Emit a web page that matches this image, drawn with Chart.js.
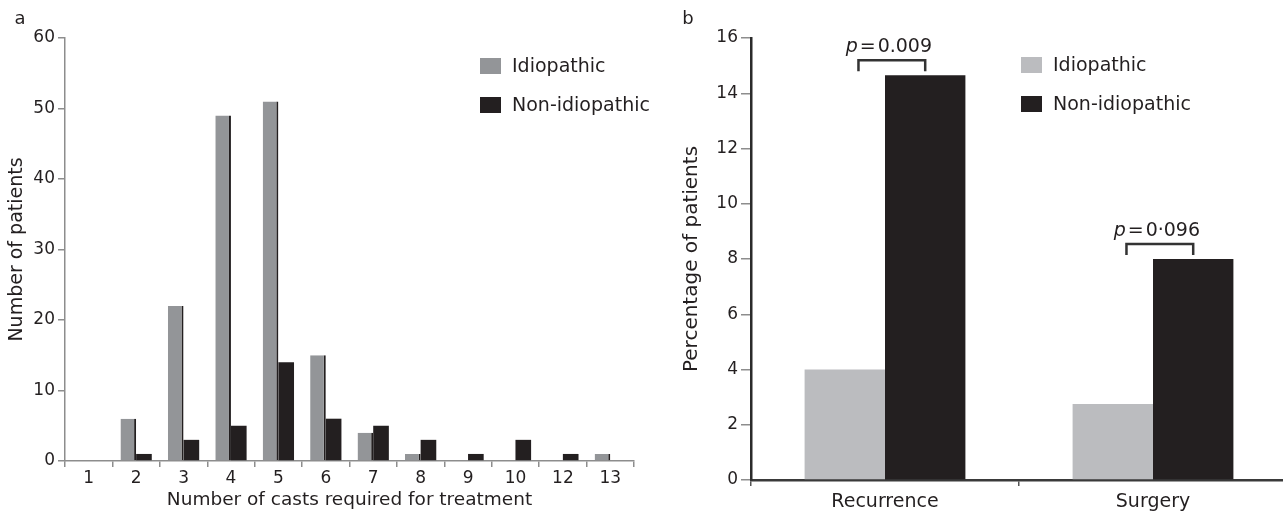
<!DOCTYPE html>
<html><head><meta charset="utf-8">
<script src="https://cdn.jsdelivr.net/npm/chart.js@4"></script>
<style>
html,body{margin:0;padding:0;background:#fff;overflow:hidden;width:1283px;height:511px}
#wa{position:absolute;left:0;top:0;width:670px;height:511px}
#wb{position:absolute;left:670px;top:0;width:617px;height:511px}
</style></head><body>
<div id="wa"><canvas id="ca"></canvas></div>
<div id="wb"><canvas id="cb"></canvas></div>
<script>
// ---- Panel a data ----
const castCategories = ['1','2','3','4','5','6','7','8','9','10','12','13'];
const idiopathicCounts = [0, 6, 22, 49, 51, 15, 4, 1, 0, 0, 0, 1];
const nonIdiopathicCounts = [0, 1, 3, 5, 14, 6, 5, 3, 1, 3, 1, 0];
const countAxis = {min: 0, max: 60, step: 10};

// ---- Panel b data ----
const outcomeCategories = ['Recurrence', 'Surgery'];
const idiopathicPct = [4.0, 2.75];
const nonIdiopathicPct = [14.65, 8.0];
const pValueLabels = ['0.009', '0\u00b7096'];
const pctAxis = {min: 0, max: 16, step: 2};

const seriesNames = ['Idiopathic', 'Non-idiopathic'];

const F = 'DejaVu Sans';
const TXT = '#231f20';
const BLACK = '#231f20';

function legendPlugin(id, x, y0, dy) {
  return {
    id,
    afterDraw(chart) {
      const ctx = chart.ctx;
      ctx.save();
      chart.data.datasets.forEach((ds, i) => {
        const cy = y0 + i * dy;
        ctx.fillStyle = ds.legendColor || ds.backgroundColor;
        ctx.fillRect(x, cy - 8, 21, 16);
        ctx.fillStyle = TXT;
        ctx.font = '19px "' + F + '"';
        ctx.textBaseline = 'middle';
        ctx.textAlign = 'left';
        ctx.fillText(ds.label, x + 32, cy + 1);
      });
      ctx.restore();
    }
  };
}
function panelLabel(id, text, x, y) {
  return {
    id,
    afterDraw(chart) {
      const ctx = chart.ctx;
      ctx.save();
      ctx.fillStyle = TXT;
      ctx.font = '18px "' + F + '"';
      ctx.textBaseline = 'middle';
      ctx.textAlign = 'center';
      ctx.fillText(text, x, y);
      ctx.restore();
    }
  };
}

// ---- Chart a ----
new Chart(document.getElementById('ca'), {
  type: 'bar',
  data: {
    labels: castCategories,
    datasets: [
      {label: seriesNames[0], data: idiopathicCounts, backgroundColor: '#939598', legendColor: '#939598',
       borderColor: BLACK, borderWidth: {top: 0, right: 2, bottom: 0, left: 0}, borderSkipped: 'start',
       categoryPercentage: 0.66, barPercentage: 1.0},
      {label: seriesNames[1], data: nonIdiopathicCounts, backgroundColor: BLACK,
       categoryPercentage: 0.66, barPercentage: 1.0}
    ]
  },
  options: {
    responsive: true, maintainAspectRatio: false, animation: false, devicePixelRatio: 1,
    layout: {padding: {top: 38, right: 36, bottom: 0, left: 0}},
    plugins: {legend: {display: false}, tooltip: {enabled: false}},
    scales: {
      x: {
        ticks: {font: {family: F, size: 17}, color: TXT, padding: 1, autoSkip: false, maxRotation: 0},
        grid: {drawOnChartArea: false, tickLength: 6, color: '#8d8d8d', lineWidth: 1.5, offset: true},
        border: {color: '#8d8d8d', width: 1.5},
        title: {display: true, text: 'Number of casts required for treatment', color: TXT,
                font: {family: F, size: 18.5}, padding: {top: 0, bottom: 0}},
        afterFit(s) { s.height = 50; }
      },
      y: {
        min: countAxis.min, max: countAxis.max,
        ticks: {stepSize: countAxis.step, font: {family: F, size: 17}, color: TXT, padding: 3},
        grid: {drawOnChartArea: false, tickLength: 7, color: '#8d8d8d', lineWidth: 1.5},
        border: {color: '#8d8d8d', width: 1.5},
        title: {display: true, text: 'Number of patients', color: TXT,
                font: {family: F, size: 19}, padding: {top: 6, bottom: 0}},
        afterFit(s) { s.width = 65; }
      }
    }
  },
  plugins: [legendPlugin('lega', 480, 66, 39), panelLabel('pla', 'a', 20, 19)]
});

// ---- Chart b ----
const pAnnot = {
  id: 'pannot',
  afterDatasetsDraw(chart) {
    const ctx = chart.ctx;
    const m0 = chart.getDatasetMeta(0), m1 = chart.getDatasetMeta(1);
    ctx.save();
    pValueLabels.forEach((pv, i) => {
      const g = m0.data[i], b = m1.data[i];
      const xl = g.x + g.width * 0.17, xr = b.x;
      const top = Math.min(g.y, b.y) - 15;
      ctx.strokeStyle = '#333';
      ctx.lineWidth = 2.5;
      ctx.beginPath();
      ctx.moveTo(xl, top + 11); ctx.lineTo(xl, top); ctx.lineTo(xr, top); ctx.lineTo(xr, top + 11);
      ctx.stroke();
      // text
      ctx.fillStyle = TXT;
      ctx.textBaseline = 'middle';
      ctx.textAlign = 'left';
      const fi = 'italic 19px "' + F + '"', fn = '19px "' + F + '"';
      ctx.font = fi; const wp = ctx.measureText('p').width;
      ctx.font = fn; const we = ctx.measureText('=').width, wn = ctx.measureText(pv).width;
      const gap = 2;
      const total = wp + gap + we + gap + wn;
      let x = (xl + xr) / 2 - total / 2 - 3;
      const y = top - 13;
      ctx.font = fi; ctx.fillText('p', x, y); x += wp + gap;
      ctx.font = fn; ctx.fillText('=', x, y); x += we + gap;
      ctx.fillText(pv, x, y);
    });
    ctx.restore();
  }
};

new Chart(document.getElementById('cb'), {
  type: 'bar',
  data: {
    labels: outcomeCategories,
    datasets: [
      {label: seriesNames[0], data: idiopathicPct, backgroundColor: '#bbbcbf',
       categoryPercentage: 0.6, barPercentage: 1.0},
      {label: seriesNames[1], data: nonIdiopathicPct, backgroundColor: BLACK,
       categoryPercentage: 0.6, barPercentage: 1.0}
    ]
  },
  options: {
    responsive: true, maintainAspectRatio: false, animation: false, devicePixelRatio: 1,
    layout: {padding: {top: 38, right: 0, bottom: 0, left: 0}},
    plugins: {legend: {display: false}, tooltip: {enabled: false}},
    scales: {
      x: {
        ticks: {font: {family: F, size: 19}, color: TXT, padding: 5, autoSkip: false, maxRotation: 0},
        grid: {drawOnChartArea: false, tickLength: 6, color: '#555', lineWidth: 1.5, offset: true},
        border: {color: '#3a3a3a', width: 2.5},
        afterFit(s) { s.height = 31; }
      },
      y: {
        min: pctAxis.min, max: pctAxis.max,
        ticks: {stepSize: pctAxis.step, font: {family: F, size: 17}, color: TXT, padding: 3},
        grid: {drawOnChartArea: false, tickLength: 10, color: '#8d8d8d', lineWidth: 1.5},
        border: {color: '#2b2b2b', width: 2.5},
        title: {display: true, text: 'Percentage of patients', color: TXT,
                font: {family: F, size: 20}, padding: {top: 10, bottom: 0}},
        afterFit(s) { s.width = 81; }
      }
    }
  },
  plugins: [pAnnot, legendPlugin('legb', 351, 65, 39), panelLabel('plb', 'b', 18, 19)]
});
</script>
</body></html>
